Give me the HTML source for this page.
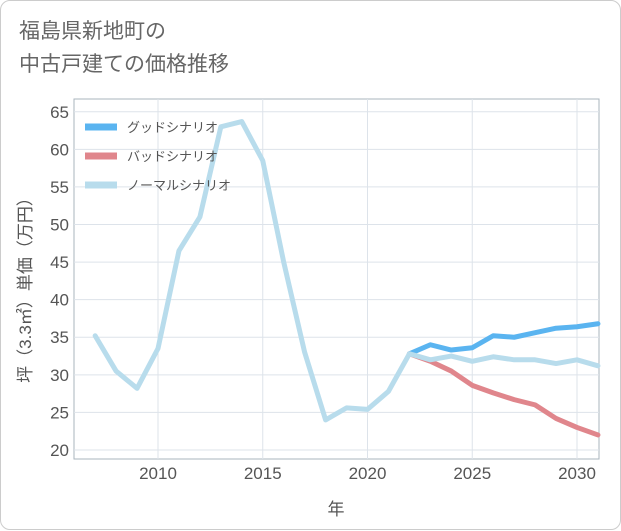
<!DOCTYPE html>
<html><head><meta charset="utf-8"><style>
body{margin:0;background:#fff;}
.card{position:absolute;left:0;top:0;width:619px;height:528px;border:1px solid #ccc;border-radius:10px;background:#fff;font-family:"Liberation Sans","Noto Sans CJK JP",sans-serif;}
.title{position:absolute;left:18px;top:14px;font-size:21px;line-height:33px;color:#666;}
</style></head><body>
<div class="card">
<div class="title">福島県新地町の<br>中古戸建ての価格推移</div>
<svg id="chart" width="621" height="530" style="position:absolute;left:0;top:0"></svg>
</div>
<script>
const years=[2007,2008,2009,2010,2011,2012,2013,2014,2015,2016,2017,2018,2019,2020,2021,2022,2023,2024,2025,2026,2027,2028,2029,2030,2031];
const normal=[35.2,30.5,28.2,33.5,46.5,51,63,63.7,58.5,45,33,24,25.6,25.4,27.8,32.8,32,32.5,31.8,32.4,32,32,31.5,32,31.2];
const goodYears=[2022,2023,2024,2025,2026,2027,2028,2029,2030,2031];
const good=[32.8,34,33.3,33.6,35.2,35,35.6,36.2,36.4,36.8];
const bad=[32.8,31.8,30.5,28.6,27.6,26.7,26,24.2,23,22];
const yTicks=[20,25,30,35,40,45,50,55,60,65];
const xTicks=[2010,2015,2020,2025,2030];
const L=73,R=598,T=98,B=458;
const xs=v=>157+(v-2010)*(576-157)/20;
const ys=v=>B-(v-18.8)*(B-T)/(66.7-18.8);
const svg=document.getElementById('chart');
const NS='http://www.w3.org/2000/svg';
function mk(t,a,p){const e=document.createElementNS(NS,t);for(const k in a)e.setAttribute(k,a[k]);(p||svg).appendChild(e);return e;}
let e=mk('rect',{x:L,y:T,width:R-L,height:B-T,fill:'none',stroke:'#aab4be'});


yTicks.forEach(v=>{
 let g=mk('line',{x1:L,x2:R,y1:ys(v),y2:ys(v),stroke:'#dde3ea'});
 
 
 let t=mk('text',{x:L-5,y:ys(v)+6,'text-anchor':'end','font-size':17,fill:'#555'});t.textContent=v;
 
 
});
xTicks.forEach(v=>{
 let g=mk('line',{x1:xs(v),x2:xs(v),y1:T,y2:B,stroke:'#dde3ea'});
 
 
 let t=mk('text',{x:xs(v),y:B+20,'text-anchor':'middle','font-size':17,fill:'#555'});t.textContent=v;
 
 
});
function line(xv,yv,col,name){
 let p=mk('polyline',{points:xv.map((x,i)=>xs(x)+','+ys(yv[i])).join(' '),fill:'none',stroke:col,'stroke-width':5,'stroke-linejoin':'round','stroke-linecap':'round'});
 
 
}
line(goodYears,bad,'#e0868c','bad-scenario-line');
line(goodYears,good,'#5ab4f0','good-scenario-line');
line(years,normal,'#b8dcec','normal-scenario-line');
const legend=[['グッドシナリオ','#5ab4f0'],['バッドシナリオ','#e0868c'],['ノーマルシナリオ','#b8dcec']];
legend.forEach((d,i)=>{
 let y=126+i*29;
 let l=mk('line',{x1:84,x2:116,y1:y,y2:y,stroke:d[1],'stroke-width':7});
 
 
 let t=mk('text',{x:126,y:y+5,'font-size':13,fill:'#555'});t.textContent=d[0];
 
 
});
let xt=mk('text',{x:335,y:514,'text-anchor':'middle','font-size':17,fill:'#555'});xt.textContent='年';


let yt=mk('text',{x:0,y:0,'text-anchor':'middle','font-size':17,fill:'#555',transform:'translate(30,285) rotate(-90)'});yt.textContent='坪（3.3㎡）単価（万円）';


</script>
</body></html>
